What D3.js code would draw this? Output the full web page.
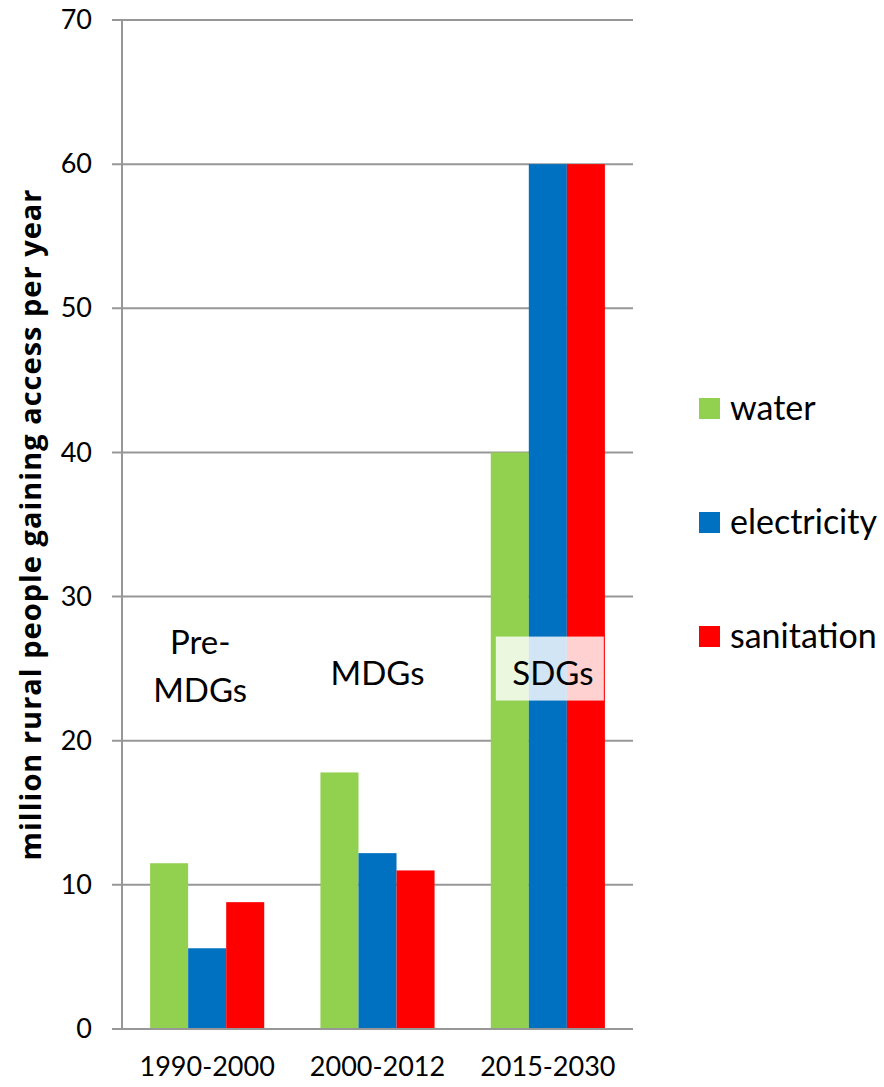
<!DOCTYPE html>
<html>
<head>
<meta charset="utf-8">
<script src="https://cdn.jsdelivr.net/npm/d3@7"></script>
<style>
  html, body { margin: 0; padding: 0; background: #fff; }
  svg { display: block; font-family: Lato, "Open Sans", sans-serif; }
</style>
</head>
<body>
<svg id="chart" width="884" height="1087"></svg>
<script>
// Rural access gains per period (million people per year)
const periods = ["1990-2000", "2000-2012", "2015-2030"];
const seriesNames = ["water", "electricity", "sanitation"];
const water = [11.5, 17.8, 40];
const electricity = [5.6, 12.2, 60];
const sanitation = [8.8, 11, 60];
const colors = ["#92d050", "#0070c0", "#ff0000"];
const yTicks = [0, 10, 20, 30, 40, 50, 60, 70];
const eraLabels = [["Pre-", "MDGs"], ["MDGs"], ["SDGs"]];

const values = [water, electricity, sanitation];

const svg = d3.select("#chart");
const margin = { left: 122, right: 251, top: 20, bottom: 58 };
const W = 884, H = 1087;
const plotW = W - margin.left - margin.right;
const plotH = H - margin.top - margin.bottom;

const g = svg.append("g").attr("transform", `translate(${margin.left},${margin.top})`);

const x0 = d3.scaleBand().domain(periods).range([0, plotW])
  .paddingInner(0.33).paddingOuter(0.165);
const x1 = d3.scaleBand().domain(seriesNames).range([0, x0.bandwidth()]);
const y = d3.scaleLinear().domain([0, 70]).range([plotH, 0]);

// horizontal gridlines with tick stubs to the left of the axis
g.append("g").selectAll("line").data(yTicks.filter(t => t > 0)).join("line")
  .attr("x1", -10).attr("x2", plotW)
  .attr("y1", d => y(d)).attr("y2", d => y(d))
  .attr("stroke", "#979797").attr("stroke-width", 2);

// bars
const groups = g.append("g").selectAll("g").data(periods).join("g")
  .attr("transform", d => `translate(${x0(d)},0)`);
groups.selectAll("rect")
  .data((p, i) => seriesNames.map((s, j) => ({ s, v: values[j][i], c: colors[j] })))
  .join("rect")
  .attr("x", d => x1(d.s))
  .attr("width", x1.bandwidth())
  .attr("y", d => y(d.v))
  .attr("height", d => y(0) - y(d.v))
  .attr("fill", d => d.c);

// y axis
const yAxis = g.append("g").call(d3.axisLeft(y).tickValues(yTicks).tickSize(10).tickPadding(20));
yAxis.select(".domain").remove();
yAxis.selectAll(".tick line").remove();
yAxis.selectAll("text").attr("font-size", 27).attr("fill", "#000")
  .style("font-family", "Lato, 'Open Sans', sans-serif");
g.append("line").attr("x1", 0).attr("x2", 0).attr("y1", 0).attr("y2", plotH)
  .attr("stroke", "#979797").attr("stroke-width", 2);

// x axis
const xAxis = g.append("g").attr("transform", `translate(0,${plotH})`)
  .call(d3.axisBottom(x0).tickSize(0).tickPadding(28));
xAxis.select(".domain").remove();
xAxis.selectAll("text").attr("font-size", 27).attr("fill", "#000")
  .style("font-family", "Lato, 'Open Sans', sans-serif");
g.append("line").attr("x1", -10).attr("x2", plotW).attr("y1", plotH).attr("y2", plotH)
  .attr("stroke", "#979797").attr("stroke-width", 2);

// era labels
const cx = d => x0(d) + x0.bandwidth() / 2;
const labelShift = [-7, 0, 5];
// SDGs backdrop
g.append("rect")
  .attr("x", cx(periods[2]) - 52).attr("width", 108)
  .attr("y", y(30) + 40).attr("height", 64)
  .attr("fill", "#fff").attr("opacity", 0.82);

periods.forEach((p, i) => {
  const lines = eraLabels[i];
  const t = g.append("text").attr("text-anchor", "middle").attr("font-size", 33).attr("fill", "#000");
  lines.forEach((ln, k) => {
    t.append("tspan").attr("x", cx(p) + labelShift[i])
      .attr("y", lines.length === 2 ? y(30) + 57 + k * 48 : y(30) + 88).text(ln);
  });
});

// y axis title
svg.append("text")
  .attr("transform", `translate(41,${margin.top + plotH / 2}) rotate(-90)`)
  .attr("text-anchor", "middle")
  .attr("font-size", 29).attr("font-weight", "bold").attr("fill", "#000")
  .attr("letter-spacing", 1)
  .style("font-family", "'Open Sans', sans-serif")
  .text("million rural people gaining access per year");

// legend
const legend = svg.append("g").attr("transform", "translate(699,0)");
const legendY = [398, 512, 626];
seriesNames.forEach((s, i) => {
  legend.append("rect").attr("x", 0).attr("y", legendY[i]).attr("width", 21).attr("height", 21).attr("fill", colors[i]);
  legend.append("text").attr("x", 31).attr("y", legendY[i] + 22).attr("font-size", 34).attr("fill", "#000").text(s);
});
</script>
</body>
</html>
